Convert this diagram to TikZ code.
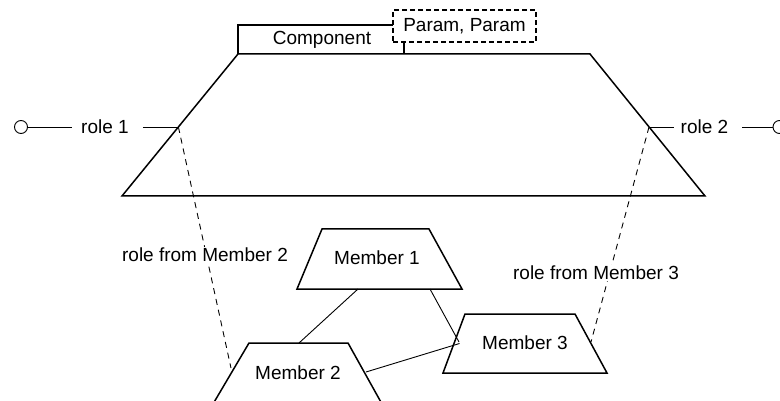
\documentclass[tikz,border=0pt]{standalone}
\usepackage{fontspec}
\setmainfont{Liberation Sans}
\begin{document}
\begin{tikzpicture}[x=1pt,y=-1pt,
  every node/.style={font=\fontsize{19}{22}\selectfont},
  shapeline/.style={line width=1.5pt, line join=miter},
  conn/.style={line width=0.9pt},
  rolelink/.style={line width=0.9pt, dash pattern=on 6pt off 5pt},
  roletext/.style={inner xsep=0pt, inner ysep=2pt},
  rolelabel/.style={fill=white, inner sep=1pt},
  port/.style={circle, draw, line width=0.9pt, minimum size=13pt, inner sep=0pt}]
\useasboundingbox (0,0) rectangle (780,401);
\clip (0,0) rectangle (780,401);

% component tab
\draw[shapeline] (238,54) -- (238,25) -- (404,25) -- (404,54);
\node (comp) at (322,40) {Component};
\node[draw, line width=1.2pt, dash pattern=on 5pt off 3pt, fill=white,
      minimum width=143pt, minimum height=32pt, inner sep=0pt] (param) at (464.5,26) {Param, Param};

% main trapezoid
\draw[shapeline] (238,54) -- (590,54) -- (705,196) -- (122,196) -- cycle;
\coordinate (rp1) at (178.4,127);
\coordinate (rp2) at (649,127);

% members
\draw[shapeline] (322,229) -- (429,229) -- (462,289) -- (297,289) -- cycle;
\node (m1) at (377,258) {Member 1};
\draw[shapeline] (465,314) -- (575,314) -- (607,373) -- (443,373) -- cycle;
\node (m3) at (525,343) {Member 3};
\draw[shapeline] (249,343) -- (348,343) -- (382,404) -- (213,404) -- cycle;
\node (m2) at (298,373) {Member 2};

\coordinate (m1bl) at (358,289);
\coordinate (m1br) at (430,289);
\coordinate (m2t) at (299,343);
\coordinate (m2r) at (366,372);
\coordinate (m2l) at (231,368);
\coordinate (m3l) at (459,342);
\coordinate (m3la) at (459.5,343.5);
\coordinate (m3r) at (591,342);

\draw[conn] (m1bl) -- (m2t);
\draw[conn] (m1br) -- (m3l);
\draw[conn] (m2r) -- (m3la);

% role links
\draw[rolelink] (rp1) -- (m2l);
\draw[rolelink] (rp2) -- (m3r);
\node[rolelabel] (lab2) at (205,255) {role from Member 2};
\node[rolelabel] (lab3) at (596,273) {role from Member 3};

% roles
\node[port] (port1) at (21,127) {};
\node[roletext] (r1) at (105,127) {role 1};
\draw[conn, shorten >=9pt] (port1) -- (r1);
\draw[conn, shorten <=14pt] (r1) -- (rp1);

\node[port] (port2) at (779.5,127) {};
\node[roletext] (r2) at (704.5,127) {role 2};
\draw[conn, shorten <=7pt] (r2) -- (rp2);
\draw[conn, shorten <=14pt] (r2) -- (port2);
\end{tikzpicture}
\end{document}
